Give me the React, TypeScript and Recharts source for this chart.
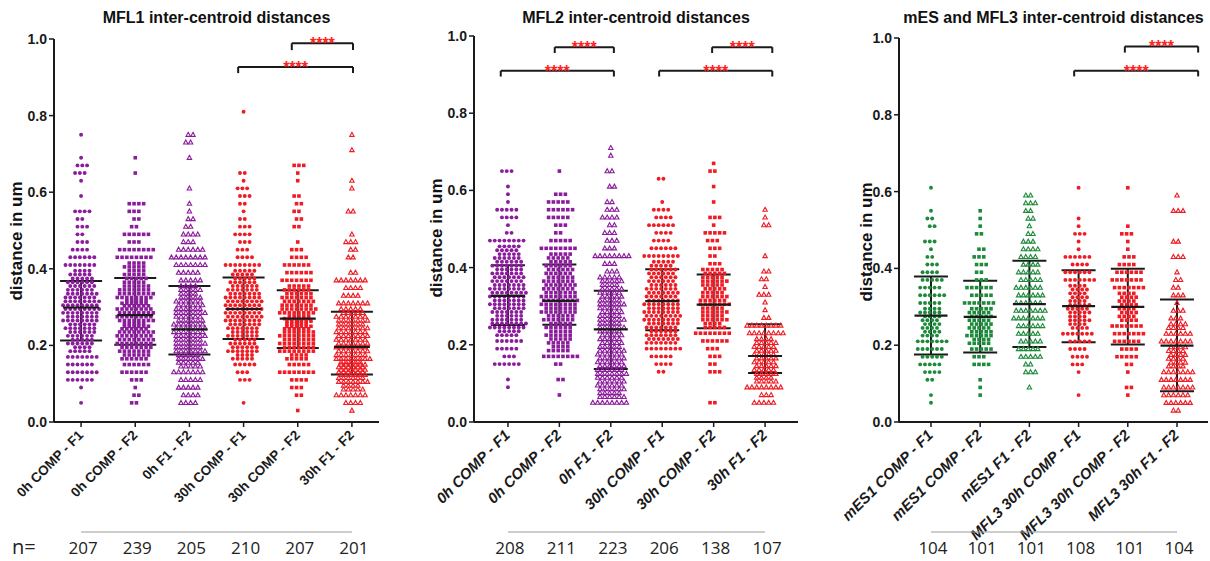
import React from 'react'
import { ErrorBar, ReferenceDot, ReferenceLine, Scatter, ScatterChart, XAxis, YAxis } from 'recharts'

// every count array holds the number of points in 0.02-wide bins, starting at 0.00
const BIN = 0.02

const mflGroups = ['0h COMP - F1', '0h COMP - F2', '0h F1 - F2', '30h COMP - F1', '30h COMP - F2', '30h F1 - F2']
const mesGroups = ['mES1 COMP - F1', 'mES1 COMP - F2', 'mES1 F1 - F2', 'MFL3 30h COMP - F1', 'MFL3 30h COMP - F2', 'MFL3 30h F1 - F2']

const mfl1Counts = [
  [0, 0, 1, 0, 1, 6, 7, 6, 7, 9, 11, 12, 13, 15, 16, 16, 14, 12, 11, 9, 7, 6, 4, 3, 2, 3, 2, 4, 0, 1, 0, 1, 3, 3, 1, 0, 0, 1],
  [0, 0, 2, 2, 1, 3, 6, 6, 12, 14, 16, 16, 17, 16, 16, 17, 16, 13, 10, 9, 9, 8, 8, 3, 6, 2, 2, 3, 4, 0, 0, 0, 1, 0, 1],
  [0, 0, 4, 4, 5, 5, 7, 10, 11, 13, 13, 14, 14, 12, 13, 12, 9, 9, 5, 5, 7, 8, 6, 3, 4, 2, 2, 1, 1, 0, 1, 0, 0, 0, 1, 0, 2, 2],
  [0, 0, 1, 0, 0, 3, 3, 5, 9, 13, 11, 13, 14, 16, 16, 16, 15, 13, 11, 10, 8, 4, 3, 3, 4, 3, 2, 1, 2, 3, 3, 1, 2, 0, 0, 0, 0, 0, 0, 0, 1],
  [0, 1, 0, 2, 3, 4, 8, 5, 9, 15, 15, 15, 17, 17, 16, 14, 13, 11, 7, 6, 6, 4, 3, 1, 0, 2, 2, 2, 2, 2, 0, 1, 1, 3],
  [0, 1, 4, 7, 9, 13, 18, 17, 15, 14, 14, 14, 13, 14, 10, 7, 4, 4, 7, 2, 0, 2, 2, 3, 1, 0, 0, 2, 0, 0, 1, 1, 0, 0, 0, 1, 0, 1],
]
const mfl1N = [207, 239, 205, 210, 207, 201]
const mfl1Mean = [0.299, 0.279, 0.242, 0.295, 0.27, 0.196]
const mfl1Low = [0.213, 0.202, 0.176, 0.217, 0.193, 0.124]
const mfl1High = [0.368, 0.376, 0.355, 0.377, 0.344, 0.288]

const mfl2Counts = [
  [0, 0, 0, 0, 1, 1, 0, 6, 3, 5, 6, 10, 16, 13, 14, 15, 16, 15, 14, 13, 13, 11, 10, 8, 2, 1, 4, 5, 1, 1, 1, 0, 3],
  [0, 0, 0, 1, 0, 2, 0, 2, 8, 9, 10, 11, 11, 13, 15, 16, 15, 14, 13, 12, 11, 10, 8, 5, 2, 3, 5, 6, 5, 3, 0, 0, 1],
  [0, 0, 8, 11, 12, 12, 13, 12, 12, 11, 10, 10, 11, 11, 10, 11, 10, 9, 10, 3, 3, 8, 3, 3, 3, 2, 4, 3, 2, 0, 2, 0, 2, 0, 1, 1],
  [0, 0, 0, 0, 0, 0, 2, 4, 5, 8, 14, 13, 14, 16, 15, 15, 14, 13, 12, 12, 10, 8, 6, 4, 4, 6, 4, 4, 1, 0, 0, 2],
  [0, 0, 2, 0, 0, 0, 3, 2, 3, 3, 6, 8, 9, 11, 11, 13, 11, 10, 11, 10, 3, 2, 3, 3, 5, 1, 3, 0, 1, 0, 1, 0, 2, 1],
  [0, 0, 5, 3, 8, 9, 10, 10, 10, 10, 9, 8, 8, 2, 1, 1, 3, 1, 2, 2, 0, 1, 0, 0, 0, 2, 1, 1],
]
const mfl2N = [208, 211, 223, 206, 138, 107]
const mfl2Mean = [0.327, 0.314, 0.24, 0.313, 0.304, 0.171]
const mfl2Low = [0.251, 0.252, 0.137, 0.238, 0.243, 0.127]
const mfl2High = [0.406, 0.408, 0.34, 0.396, 0.382, 0.253]

const mesCounts = [
  [0, 0, 1, 1, 0, 2, 4, 5, 5, 6, 7, 8, 8, 8, 9, 5, 6, 5, 5, 4, 3, 2, 1, 3, 0, 2, 2, 1, 0, 0, 1],
  [0, 0, 0, 1, 1, 1, 0, 4, 3, 5, 9, 11, 10, 10, 10, 7, 5, 6, 3, 2, 3, 3, 2, 0, 2, 1, 1, 1],
  [0, 0, 0, 0, 1, 0, 3, 2, 5, 5, 5, 5, 6, 7, 7, 6, 6, 6, 5, 5, 4, 4, 4, 3, 2, 1, 2, 2, 3, 2],
  [0, 0, 0, 1, 0, 0, 1, 3, 4, 4, 5, 7, 8, 9, 10, 9, 8, 8, 7, 6, 4, 6, 1, 1, 3, 1, 1, 0, 0, 0, 1],
  [0, 0, 0, 1, 2, 0, 1, 2, 5, 4, 6, 7, 7, 8, 8, 8, 8, 7, 7, 6, 4, 3, 1, 1, 3, 1, 0, 0, 0, 0, 1],
  [0, 2, 6, 6, 7, 7, 7, 8, 8, 8, 7, 6, 8, 3, 3, 1, 3, 2, 2, 1, 0, 3, 0, 2, 0, 0, 0, 3, 0, 1],
]
const mesN = [104, 101, 101, 108, 101, 104]
const mesMean = [0.277, 0.274, 0.307, 0.302, 0.3, 0.199]
const mesLow = [0.176, 0.181, 0.195, 0.208, 0.202, 0.08]
const mesHigh = [0.379, 0.368, 0.42, 0.395, 0.399, 0.319]

const INK = '#1a1a1a'
const PURPLE = '#8b1c9b'
const RED = '#ee1c25'
const GREEN = '#1e8b3c'
const MARKERS = ['circle', 'square', 'triangle', 'circle', 'square', 'triangle']
const FONT = '"Liberation Sans", Arial, sans-serif'

const panels = [
  {
    title: 'MFL1 inter-centroid distances',
    groups: mflGroups, counts: mfl1Counts, n: mfl1N, mean: mfl1Mean, low: mfl1Low, high: mfl1High,
    colors: [PURPLE, PURPLE, PURPLE, RED, RED, RED],
    left: 0, width: 390, top: 39, yW: 54, right: 11, domain: [-0.5, 5.5],
    meanW: 36, capW: 21, maxRow: 8,
    tickFont: { fontFamily: FONT, fontWeight: 700, fontStyle: 'normal', fontSize: 13.5 },
    yLabel: [22, 241],
    brackets: [
      { x1: 3.89, x2: 5.02, y: 0.989, leg: 0.971 },
      { x1: 2.9, x2: 5.02, y: 0.927, leg: 0.911 },
    ],
  },
  {
    title: 'MFL2 inter-centroid distances',
    groups: mflGroups, counts: mfl2Counts, n: mfl2N, mean: mfl2Mean, low: mfl2Low, high: mfl2High,
    colors: [PURPLE, PURPLE, PURPLE, RED, RED, RED],
    left: 400, width: 410, top: 36, yW: 74, right: 12, domain: [-0.66, 5.64],
    meanW: 34, capW: 17, maxRow: 8,
    tickFont: { fontFamily: '"Liberation Sans Narrow", "Liberation Sans", sans-serif', fontWeight: 700, fontStyle: 'italic', fontSize: 15 },
    yLabel: [442, 238],
    brackets: [
      { x1: 0.91, x2: 2.06, y: 0.971, leg: 0.956 },
      { x1: -0.14, x2: 2.06, y: 0.91, leg: 0.895 },
      { x1: 3.97, x2: 5.14, y: 0.971, leg: 0.956 },
      { x1: 2.94, x2: 5.14, y: 0.91, leg: 0.895 },
    ],
  },
  {
    title: 'mES and MFL3 inter-centroid distances',
    groups: mesGroups, counts: mesCounts, n: mesN, mean: mesMean, low: mesLow, high: mesHigh,
    colors: [GREEN, GREEN, GREEN, RED, RED, RED],
    left: 820, width: 390, top: 38, yW: 79, right: 2, domain: [-0.65, 5.63],
    meanW: 33, capW: 17, maxRow: 7,
    tickFont: { fontFamily: '"Liberation Sans Narrow", "Liberation Sans", sans-serif', fontWeight: 700, fontStyle: 'italic', fontSize: 15 },
    yLabel: [872, 242],
    brackets: [
      { x1: 3.94, x2: 5.43, y: 0.978, leg: 0.962 },
      { x1: 2.91, x2: 5.43, y: 0.915, leg: 0.9 },
    ],
  },
]

// lay the binned points out in staggered rows, like a dot plot
function swarm(counts: number[], g: number, unitPx: number, maxRow: number) {
  const pts: { x: number; y: number }[] = []
  const step = 4.8 / unitPx
  let row = 0
  counts.forEach((c, k) => {
    if (!c) return
    const rows = Math.ceil(c / maxRow)
    for (let r = 0; r < rows; r++) {
      const m = Math.floor(c / rows) + (r < c % rows ? 1 : 0)
      const y = k * BIN + ((r + 0.5) * BIN) / rows
      const shift = m > 1 ? (row % 2 ? 0.25 : -0.25) * step : 0
      for (let i = 0; i < m; i++) pts.push({ x: g + (i - (m - 1) / 2) * step + shift, y })
      row++
    }
  })
  return pts
}

function marker(kind: string, color: string) {
  return (p: any) => {
    const { cx, cy } = p
    if (kind === 'circle') return <circle cx={cx} cy={cy} r={1.95} fill={color} />
    if (kind === 'square') return <rect x={cx - 1.8} y={cy - 1.8} width={3.6} height={3.6} fill={color} />
    return (
      <path
        d={`M${cx},${cy - 2.4}L${cx + 2.2},${cy + 1.6}L${cx - 2.2},${cy + 1.6}Z`}
        fill="none"
        stroke={color}
        strokeWidth={1.1}
      />
    )
  }
}

function Panel({ cfg }: { cfg: any }) {
  const plotW = cfg.width - cfg.yW - cfg.right
  const unitPx = plotW / (cfg.domain[1] - cfg.domain[0])
  const meanData = cfg.mean.map((m: number, i: number) => ({
    x: i,
    y: m,
    err: [m - cfg.low[i], cfg.high[i] - m],
  }))

  return (
    <div style={{ position: 'absolute', left: cfg.left, top: 0 }}>
      <ScatterChart
        width={cfg.width}
        height={561}
        margin={{ top: cfg.top, right: cfg.right, bottom: 39, left: 0 }}
        style={{ overflow: 'visible' }}
      >
        <XAxis
          type="number"
          dataKey="x"
          domain={cfg.domain}
          ticks={[0, 1, 2, 3, 4, 5]}
          interval={0}
          height={100}
          tickSize={5}
          axisLine={{ stroke: INK, strokeWidth: 2 }}
          tickLine={{ stroke: INK, strokeWidth: 1.5 }}
          allowDataOverflow
          tick={(p: any) => {
            const ax = p.x + 3
            const ay = p.y + 7
            return (
              <text
                x={ax}
                y={ay}
                textAnchor="end"
                fill={INK}
                transform={`rotate(-45 ${ax} ${ay})`}
                {...cfg.tickFont}
              >
                {cfg.groups[Math.round(p.payload.value)]}
              </text>
            )
          }}
        />
        <YAxis
          type="number"
          dataKey="y"
          domain={[0, 1]}
          ticks={[0, 0.2, 0.4, 0.6, 0.8, 1]}
          interval={0}
          width={cfg.yW}
          tickSize={5}
          tickMargin={2}
          axisLine={{ stroke: INK, strokeWidth: 2 }}
          tickLine={{ stroke: INK, strokeWidth: 1.5 }}
          tick={{ fill: INK, fontSize: 14, fontWeight: 700, fontFamily: FONT }}
          tickFormatter={(v: number) => v.toFixed(1)}
        />
        {cfg.counts.map((c: number[], g: number) => (
          <Scatter
            key={g}
            data={swarm(c, g, unitPx, cfg.maxRow)}
            shape={marker(MARKERS[g], cfg.colors[g])}
            isAnimationActive={false}
          />
        ))}
        <Scatter
          data={meanData}
          isAnimationActive={false}
          shape={(p: any) => (
            <line
              x1={p.cx - cfg.meanW / 2}
              x2={p.cx + cfg.meanW / 2}
              y1={p.cy}
              y2={p.cy}
              stroke={INK}
              strokeWidth={2.2}
            />
          )}
        >
          <ErrorBar dataKey="err" direction="y" width={cfg.capW} stroke={INK} strokeWidth={2} />
        </Scatter>
        {cfg.brackets.map((b: any, i: number) => (
          <ReferenceLine key={`h${i}`} segment={[{ x: b.x1, y: b.y }, { x: b.x2, y: b.y }]} stroke={INK} strokeWidth={2} />
        ))}
        {cfg.brackets.map((b: any, i: number) => (
          <ReferenceLine key={`l${i}`} segment={[{ x: b.x1, y: b.y }, { x: b.x1, y: b.leg }]} stroke={INK} strokeWidth={2} />
        ))}
        {cfg.brackets.map((b: any, i: number) => (
          <ReferenceLine key={`r${i}`} segment={[{ x: b.x2, y: b.y }, { x: b.x2, y: b.leg }]} stroke={INK} strokeWidth={2} />
        ))}
        {cfg.brackets.map((b: any, i: number) => (
          <ReferenceDot
            key={`s${i}`}
            x={(b.x1 + b.x2) / 2}
            y={b.y}
            r={0}
            shape={(p: any) => (
              <text x={p.cx} y={p.cy + 6} textAnchor="middle" fill="#ff2020" fontSize={16} fontWeight={700} fontFamily={FONT}>
                ****
              </text>
            )}
          />
        ))}
      </ScatterChart>
    </div>
  )
}

function Overlay() {
  return (
    <svg width={1210} height={561} style={{ position: 'absolute', left: 0, top: 0, pointerEvents: 'none' }}>
      {panels.map((cfg, pi) => {
        const plotL = cfg.left + cfg.yW
        const plotW = cfg.width - cfg.yW - cfg.right
        const unitPx = plotW / (cfg.domain[1] - cfg.domain[0])
        const cat = (i: number) => plotL + (i - cfg.domain[0]) * unitPx
        return (
          <g key={pi}>
            <text x={plotL + plotW / 2} y={23} textAnchor="middle" fontFamily={FONT} fontWeight={700} fontSize={16} fill="#111">
              {cfg.title}
            </text>
            <text
              x={cfg.yLabel[0]}
              y={cfg.yLabel[1]}
              textAnchor="middle"
              transform={`rotate(-90 ${cfg.yLabel[0]} ${cfg.yLabel[1]})`}
              fontFamily={FONT}
              fontWeight={700}
              fontSize={17}
              fill="#111"
            >
              distance in um
            </text>
            <line x1={cat(0)} x2={cat(5)} y1={532} y2={532} stroke="#9a9a9a" strokeWidth={1} />
            {cfg.n.map((v: number, i: number) => (
              <text key={i} x={cat(i) + 2} y={554} textAnchor="middle" fontFamily='"Open Sans", sans-serif' fontSize={17} fill="#222">
                {v}
              </text>
            ))}
          </g>
        )
      })}
      <text x={12} y={554} fontFamily='"Open Sans", sans-serif' fontSize={20} fill="#222">
        n=
      </text>
    </svg>
  )
}

export default function App() {
  return (
    <div style={{ position: 'absolute', left: 0, top: 0, width: 1210, height: 561, background: '#fff', overflow: 'hidden' }}>
      {panels.map((cfg, i) => (
        <Panel key={i} cfg={cfg} />
      ))}
      <Overlay />
    </div>
  )
}
